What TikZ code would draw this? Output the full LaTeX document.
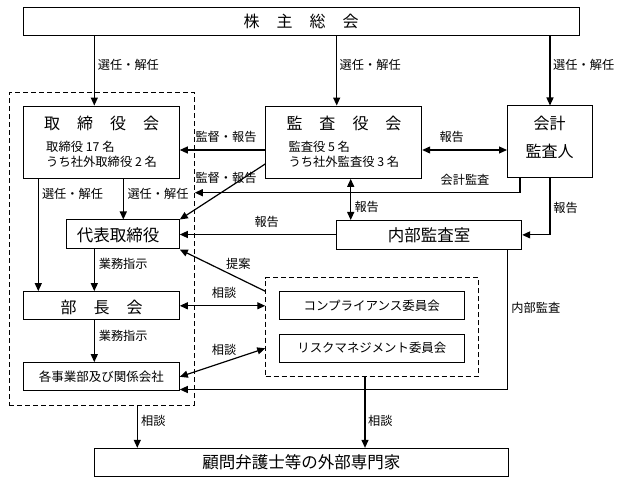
\documentclass[tikz,border=0pt]{standalone}
\usepackage{fontspec}
\setmainfont{Noto Sans CJK JP}
\usetikzlibrary{arrows.meta}
\newcommand\myfs[1]{\fontsize{#1}{#1}\selectfont}
\begin{document}
\begin{tikzpicture}[x=1pt,y=-1pt,
 box/.style={draw, line width=1pt, inner sep=0pt},
 dbox/.style={draw, line width=0.9pt, dash pattern=on 5pt off 3pt, inner sep=0pt},
 arr/.style={line width=1.2pt, -{Triangle[length=8pt,width=7pt]}},
 darr/.style={line width=1.2pt, {Triangle[length=8pt,width=7pt]}-{Triangle[length=8pt,width=7pt]}},
 lbl/.style={inner sep=0pt, font=\myfs{12.2}},
 sub/.style={inner sep=0pt, anchor=west, font=\myfs{12.3}},
 ttl/.style={inner sep=0pt, font=\myfs{16}},
 mid/.style={inner sep=0pt, font=\myfs{12.5}},
]
\useasboundingbox (0,0) rectangle (632,489);

% enclosures
\node[dbox, minimum width=185pt, minimum height=312.3pt] (encl) at (101.8,248.8) {};
\node[dbox, minimum width=212.6pt, minimum height=99pt] (comm) at (372,327.2) {};

% boxes
\node[box, ttl, minimum width=555.7pt, minimum height=27.7pt] (kabu) at (301.2,21.2) {株\hspace{17pt}主\hspace{17pt}総\hspace{17pt}会};

\node[box, minimum width=156pt, minimum height=72.3pt] (tori) at (101.3,142.2) {};
\node[ttl] (toriT) at (101.7,123.3) {取\hspace{17pt}締\hspace{17pt}役\hspace{17pt}会};
\node[sub] (toriA) at (46,146.7) {取締役 17 名};
\node[sub] (toriB) at (46,161.7) {うち社外取締役 2 名};

\node[box, minimum width=156pt, minimum height=72.3pt] (kansa) at (343.7,142.2) {};
\node[ttl] (kansaT) at (344,123.3) {監\hspace{17pt}査\hspace{17pt}役\hspace{17pt}会};
\node[sub] (kansaA) at (288.3,146.7) {監査役 5 名};
\node[sub] (kansaB) at (288.3,161.7) {うち社外監査役 3 名};

\node[box, minimum width=84.8pt, minimum height=72pt] (kaikei) at (549.9,142) {};
\node[ttl] (kaikeiA) at (549.5,123.3) {会計};
\node[ttl] (kaikeiB) at (549.5,151.7) {監査人};

\node[box, minimum width=112.6pt, minimum height=29pt] (daihyo) at (123,234.5) {};
\node[ttl, font=\myfs{16.5}] (daihyoT) at (118,235.5) {代表取締役};

\node[box, ttl, font=\myfs{16.5}, minimum width=185pt, minimum height=28.8pt] (naibu) at (429.2,234.9) {内部監査室};

\node[box, minimum width=156pt, minimum height=28.3pt] (bucho) at (101.3,305.8) {};
\node[ttl] (buchoT) at (101.7,307) {部\hspace{17pt}長\hspace{17pt}会};

\node[box, mid, minimum width=156pt, minimum height=28.3pt] (jigyo) at (101.3,376.8) {各事業部及び関係会社};

\node[box, mid, minimum width=185pt, minimum height=28.3pt] (comp) at (371.8,305.8) {コンプライアンス委員会};
\node[box, mid, font=\myfs{12.4}, minimum width=185pt, minimum height=28pt] (risk) at (371.8,348.3) {リスクマネジメント委員会};

\node[box, ttl, font=\myfs{16.5}, minimum width=414pt, minimum height=27.7pt] (komon) at (301.3,462.2) {顧問弁護士等の外部専門家};

% helper coordinates
\coordinate (xA) at (94.3,0);
\coordinate (xB) at (336.7,0);
\coordinate (xC) at (550,0);
\coordinate (xD) at (123.3,0);
\coordinate (xE) at (38.3,0);
\coordinate (xF) at (350.7,0);
\coordinate (xG) at (520,0);
\coordinate (xH) at (507.7,0);
\coordinate (xI) at (137.3,0);
\coordinate (xJ) at (365,0);
\coordinate (yM) at (0,150);
\coordinate (yK) at (0,192.7);
\coordinate (yJ) at (0,389.5);

% connectors
\draw[arr] (kabu.south -| xA) -- (tori.north -| xA);
\draw[arr] (kabu.south -| xB) -- (kansa.north -| xB);
\draw[arr] (kabu.south -| xC) -- (kaikei.north -| xC);
\draw[arr] (kansa.west |- yM) -- (tori.east |- yM);
\draw[darr] (kansa.east |- yM) -- (kaikei.west |- yM);
\draw[arr] ([yshift=-21.8pt]kansa.west) -- (daihyo.north east);
\draw[arr] (kaikei.south -| xG) |- (encl.east |- yK);
\draw[arr] (tori.south -| xD) -- (daihyo.north -| xD);
\draw[arr] (tori.south -| xE) -- (bucho.north -| xE);
\draw[darr] (kansa.south -| xF) -- (naibu.north -| xF);
\draw[arr] (naibu.west |- daihyo.east) -- (daihyo.east);
\draw[arr] (kaikei.south -| xC) |- (naibu.east);
\draw[arr] (daihyo.south -| xA) -- (bucho.north -| xA);
\draw[arr] (bucho.south -| xA) -- (jigyo.north -| xA);
\draw[arr] ([yshift=-14pt]comm.north west) -- (daihyo.south east);
\draw[darr] (bucho.east) -- (bucho.east -| comm.west);
\draw[darr] (jigyo.east) -- (comm.west |- risk.west);
\draw[arr] (naibu.south -| xH) |- (jigyo.east |- yJ);
\draw[arr] (encl.south -| xI) -- (komon.north -| xI);
\draw[arr] (comm.south -| xJ) -- (komon.north -| xJ);

% labels
\node[lbl, anchor=west] (l1) at (97.7,65) {選任・解任};
\node[lbl, anchor=west] (l2) at (339.5,65) {選任・解任};
\node[lbl, anchor=west] (l3) at (553,65) {選任・解任};
\node[lbl] (l4) at (226,136.7) {監督・報告};
\node[lbl] (l5) at (226,178.3) {監督・報告};
\node[lbl] (l6) at (451.7,136.7) {報告};
\node[lbl] (l7) at (465,180) {会計監査};
\node[lbl] (l8) at (72.5,194) {選任・解任};
\node[lbl] (l9) at (158,194) {選任・解任};
\node[lbl] (l10) at (266.7,221.7) {報告};
\node[lbl] (l11) at (366.7,207.3) {報告};
\node[lbl] (l12) at (565.5,207.7) {報告};
\node[lbl] (l13) at (123.2,264) {業務指示};
\node[lbl] (l14) at (238.3,264) {提案};
\node[lbl] (l15) at (224,292.5) {相談};
\node[lbl] (l16) at (123.2,335.7) {業務指示};
\node[lbl] (l17) at (224,350) {相談};
\node[lbl] (l18) at (535.8,308.3) {内部監査};
\node[lbl] (l19) at (153.3,420.7) {相談};
\node[lbl] (l20) at (380.3,420.7) {相談};
\end{tikzpicture}
\end{document}
